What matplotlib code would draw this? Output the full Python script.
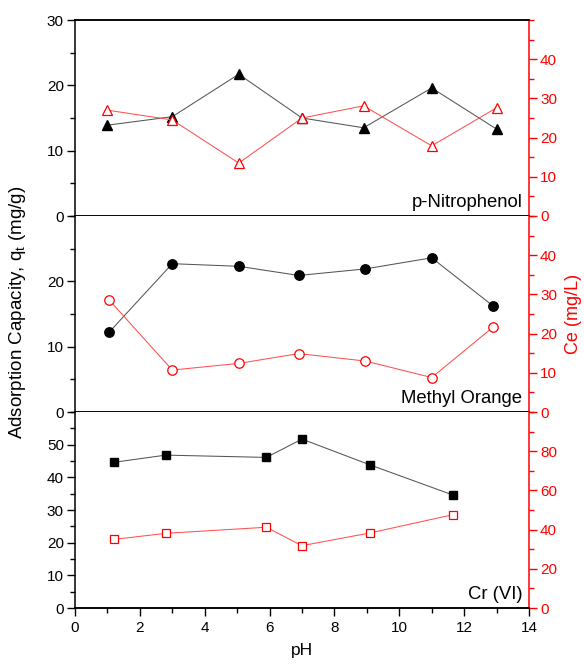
import matplotlib
matplotlib.use("Agg")
import matplotlib.pyplot as plt
from matplotlib.ticker import MultipleLocator

plt.rcParams['font.family'] = ['Liberation Sans', 'DejaVu Sans']

# p-Nitrophenol
pnp_ph = [1.0, 3.0, 5.05, 7.0, 8.9, 11.0, 13.0]
pnp_qt = [13.9, 15.2, 21.7, 15.0, 13.5, 19.6, 13.3]
pnp_ce = [27.0, 24.5, 13.5, 25.0, 28.1, 17.9, 27.6]

# Methyl Orange
mo_ph = [1.05, 3.0, 5.05, 6.9, 8.95, 11.0, 12.9]
mo_qt = [12.2, 22.7, 22.3, 20.9, 21.9, 23.6, 16.2]
mo_ce = [28.6, 10.7, 12.4, 14.9, 13.0, 8.8, 21.7]

# Cr (VI)
cr_ph = [1.2, 2.8, 5.9, 7.0, 9.1, 11.65]
cr_qt = [44.6, 46.8, 46.1, 51.7, 43.8, 34.6]
cr_ce = [35.0, 38.1, 41.2, 31.8, 38.3, 47.6]

panels = [
    dict(name="p-Nitrophenol", ph=pnp_ph, qt=pnp_qt, ce=pnp_ce, marker="^", ms=7.5,
         qlim=30, qticks=[0, 10, 20, 30], qminor=5, clim=50, cticks=[0, 10, 20, 30, 40], cminor=5),
    dict(name="Methyl Orange", ph=mo_ph, qt=mo_qt, ce=mo_ce, marker="o", ms=6.8,
         qlim=30, qticks=[0, 10, 20], qminor=5, clim=50, cticks=[0, 10, 20, 30, 40], cminor=5),
    dict(name="Cr (VI)", ph=cr_ph, qt=cr_qt, ce=cr_ce, marker="s", ms=5.8,
         qlim=60, qticks=[0, 10, 20, 30, 40, 50], qminor=5, clim=100, cticks=[0, 20, 40, 60, 80], cminor=10),
]

W, H = 584, 665
fig = plt.figure(figsize=(W / 100, H / 100), dpi=100)

left_px, right_px = 75, 529
bounds = [(20, 216), (216, 412), (412, 608)]

RED = "#ff0000"
LINE_RED = "#ff5050"
LINE_GRAY = "#555555"

for i, (p, (top_px, bot_px)) in enumerate(zip(panels, bounds)):
    ax = fig.add_axes([left_px / W, 1 - bot_px / H, (right_px - left_px) / W, (bot_px - top_px) / H])
    ax2 = ax.twinx()

    ax.plot(p["ph"], p["qt"], color=LINE_GRAY, lw=0.75, marker=p["marker"], ms=p["ms"],
            mfc="black", mec="black", zorder=3)
    ax2.plot(p["ph"], p["ce"], color=LINE_RED, lw=0.75, marker=p["marker"], ms=p["ms"],
             mfc="white", mec=RED, mew=0.9, zorder=3)

    ax.set_xlim(0, 14)
    ax.set_ylim(0, p["qlim"])
    ax2.set_ylim(0, p["clim"])

    ax.set_yticks(p["qticks"])
    ax.yaxis.set_minor_locator(MultipleLocator(p["qminor"]))
    ax2.set_yticks(p["cticks"])
    ax2.yaxis.set_minor_locator(MultipleLocator(p["cminor"]))

    ax.tick_params(axis="y", which="major", direction="out", length=6, width=1, labelsize=11, pad=2)
    ax.tick_params(axis="y", which="minor", direction="out", length=3.5, width=1)
    ax2.tick_params(axis="y", which="major", direction="out", length=6, width=1,
                    colors=RED, labelsize=11, pad=2)
    ax2.tick_params(axis="y", which="minor", direction="out", length=3.5, width=1, colors=RED)

    for a in (ax, ax2):
        for s in a.spines.values():
            s.set_linewidth(1.1)
    ax2.spines["right"].set_color(RED)
    ax2.spines["left"].set_visible(False)
    ax.spines["right"].set_visible(False)

    if i < 2:
        ax.tick_params(axis="x", which="both", bottom=False, labelbottom=False)
    else:
        ax.set_xticks(range(0, 15, 2))
        ax.xaxis.set_minor_locator(MultipleLocator(1))
        ax.tick_params(axis="x", which="major", direction="out", length=6, width=1, labelsize=11, pad=3)
        ax.tick_params(axis="x", which="minor", direction="out", length=3.5, width=1)
        ax.set_xlabel("pH", fontsize=12.5, labelpad=6)
    if i > 0:
        ax.spines["top"].set_visible(False)
        ax2.spines["top"].set_visible(False)

    ax.text(0.985, 0.025, p["name"], transform=ax.transAxes, ha="right", va="bottom", fontsize=13.3)

fig.text(18 / W, 1 - 312 / H, "Adsorption Capacity, q$_\\mathregular{t}$ (mg/g)", rotation=90,
         ha="center", va="center", fontsize=13.5)
fig.text(574 / W, 1 - 314 / H, "Ce (mg/L)", rotation=90, ha="center", va="center",
         fontsize=13, color=RED)

fig.savefig("out.png", dpi=100)
